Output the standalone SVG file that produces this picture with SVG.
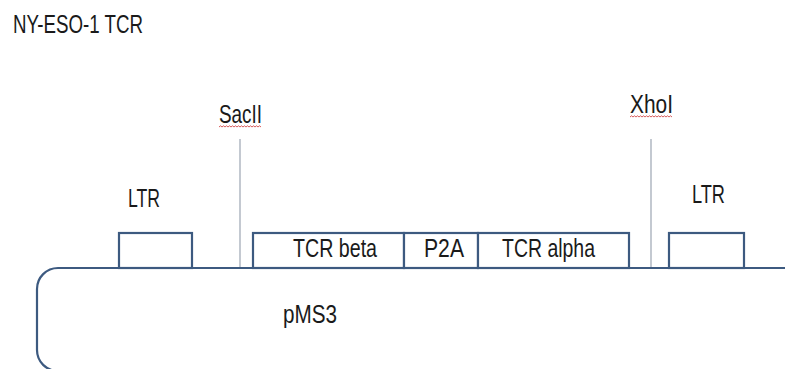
<svg xmlns="http://www.w3.org/2000/svg" width="785" height="369" viewBox="0 0 785 369">
<style>
text{font-family:"Liberation Sans","Open Sans",sans-serif;font-size:25px;fill:#1a1a1a}
.box{fill:#fff;stroke:#3d5a80;stroke-width:2.2}
.site{stroke:#a4acb8;stroke-width:1.3}
.squig{fill:none;stroke:#d24a4a;stroke-width:0.9}
</style>
<rect width="785" height="369" fill="#fff"/>
<text x="13" y="33" textLength="130" lengthAdjust="spacingAndGlyphs">NY-ESO-1 TCR</text>
<g id="backbone">
<rect class="box" x="37" y="268" width="800" height="103" rx="21"/>
<text x="283" y="323" textLength="54" lengthAdjust="spacingAndGlyphs">pMS3</text>
</g>
<g id="connectors">
<line class="site" x1="240" y1="139" x2="240" y2="267"/>
<line class="site" x1="651" y1="139" x2="651" y2="267"/>
</g>
<g id="sacII">
<text x="219" y="123" textLength="43" lengthAdjust="spacingAndGlyphs">SacII</text>
<path class="squig" d="M219 127 l1.5 -1.2 l1.5 1.2 l1.5 -1.2 l1.5 1.2 l1.5 -1.2 l1.5 1.2 l1.5 -1.2 l1.5 1.2 l1.5 -1.2 l1.5 1.2 l1.5 -1.2 l1.5 1.2 l1.5 -1.2 l1.5 1.2 l1.5 -1.2 l1.5 1.2 l1.5 -1.2 l1.5 1.2 l1.5 -1.2 l1.5 1.2 l1.5 -1.2 l1.5 1.2 l1.5 -1.2 l1.5 1.2 l1.5 -1.2 l1.5 1.2 l1.5 -1.2 l1.5 1.2"/>
</g>
<g id="xhoI">
<text x="630" y="113" textLength="43" lengthAdjust="spacingAndGlyphs">XhoI</text>
<path class="squig" d="M630 117 l1.5 -1.2 l1.5 1.2 l1.5 -1.2 l1.5 1.2 l1.5 -1.2 l1.5 1.2 l1.5 -1.2 l1.5 1.2 l1.5 -1.2 l1.5 1.2 l1.5 -1.2 l1.5 1.2 l1.5 -1.2 l1.5 1.2 l1.5 -1.2 l1.5 1.2 l1.5 -1.2 l1.5 1.2 l1.5 -1.2 l1.5 1.2 l1.5 -1.2 l1.5 1.2 l1.5 -1.2 l1.5 1.2 l1.5 -1.2 l1.5 1.2 l1.5 -1.2 l1.5 1.2"/>
</g>
<g id="ltr-left">
<rect class="box" x="119" y="233" width="73" height="35"/>
<text x="128" y="207" textLength="32" lengthAdjust="spacingAndGlyphs">LTR</text>
</g>
<g id="tcr-beta">
<rect class="box" x="253" y="233" width="151" height="35"/>
<text x="293" y="257" textLength="84" lengthAdjust="spacingAndGlyphs">TCR beta</text>
</g>
<g id="p2a">
<rect class="box" x="404" y="233" width="74" height="35"/>
<text x="424" y="257" textLength="40" lengthAdjust="spacingAndGlyphs">P2A</text>
</g>
<g id="tcr-alpha">
<rect class="box" x="478" y="233" width="151" height="35"/>
<text x="502" y="257" textLength="93" lengthAdjust="spacingAndGlyphs">TCR alpha</text>
</g>
<g id="ltr-right">
<rect class="box" x="669" y="233" width="75" height="35"/>
<text x="692" y="203" textLength="33" lengthAdjust="spacingAndGlyphs">LTR</text>
</g>
</svg>
